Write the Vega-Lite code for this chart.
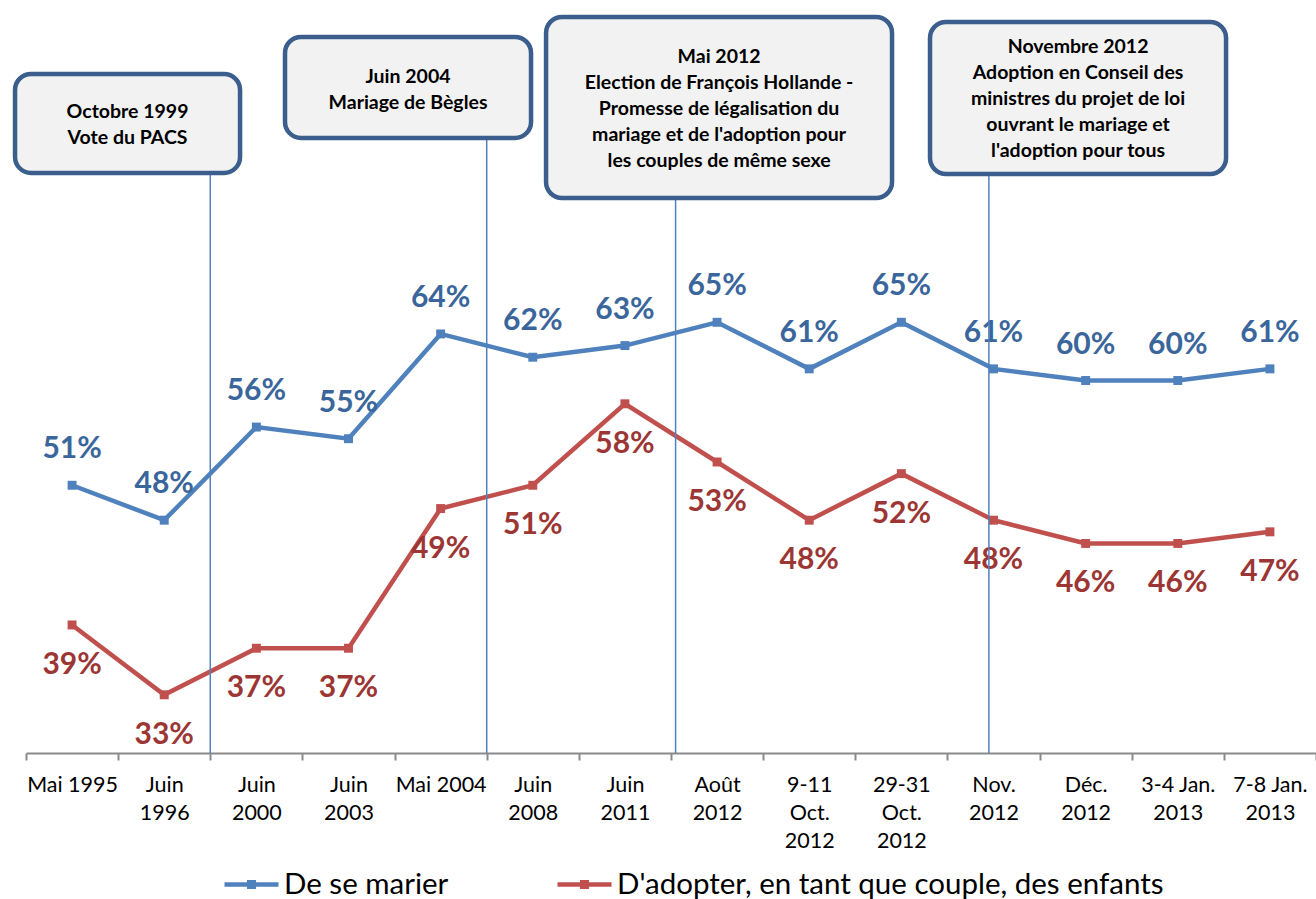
{
  "$schema": "https://vega.github.io/schema/vega-lite/v6.json",
  "autosize": "none",
  "padding": {"left": 26, "top": 8, "right": 0, "bottom": 146},
  "width": 1290,
  "height": 745,
  "background": "white",
  "config": {"view": {"stroke": null}, "font": "Lato"},
  "layer": [
    {
      "data": {"values": [
        {"date": "Mai 1995", "serie": "De se marier", "value": 0.51},
        {"date": "Juin\n1996", "serie": "De se marier", "value": 0.48},
        {"date": "Juin\n2000", "serie": "De se marier", "value": 0.56},
        {"date": "Juin\n2003", "serie": "De se marier", "value": 0.55},
        {"date": "Mai 2004", "serie": "De se marier", "value": 0.64},
        {"date": "Juin\n2008", "serie": "De se marier", "value": 0.62},
        {"date": "Juin\n2011", "serie": "De se marier", "value": 0.63},
        {"date": "Août\n2012", "serie": "De se marier", "value": 0.65},
        {"date": "9-11\nOct.\n2012", "serie": "De se marier", "value": 0.61},
        {"date": "29-31\nOct.\n2012", "serie": "De se marier", "value": 0.65},
        {"date": "Nov.\n2012", "serie": "De se marier", "value": 0.61},
        {"date": "Déc.\n2012", "serie": "De se marier", "value": 0.60},
        {"date": "3-4 Jan.\n2013", "serie": "De se marier", "value": 0.60},
        {"date": "7-8 Jan.\n2013", "serie": "De se marier", "value": 0.61},
        {"date": "Mai 1995", "serie": "D'adopter, en tant que couple, des enfants", "value": 0.39},
        {"date": "Juin\n1996", "serie": "D'adopter, en tant que couple, des enfants", "value": 0.33},
        {"date": "Juin\n2000", "serie": "D'adopter, en tant que couple, des enfants", "value": 0.37},
        {"date": "Juin\n2003", "serie": "D'adopter, en tant que couple, des enfants", "value": 0.37},
        {"date": "Mai 2004", "serie": "D'adopter, en tant que couple, des enfants", "value": 0.49},
        {"date": "Juin\n2008", "serie": "D'adopter, en tant que couple, des enfants", "value": 0.51},
        {"date": "Juin\n2011", "serie": "D'adopter, en tant que couple, des enfants", "value": 0.58},
        {"date": "Août\n2012", "serie": "D'adopter, en tant que couple, des enfants", "value": 0.53},
        {"date": "9-11\nOct.\n2012", "serie": "D'adopter, en tant que couple, des enfants", "value": 0.48},
        {"date": "29-31\nOct.\n2012", "serie": "D'adopter, en tant que couple, des enfants", "value": 0.52},
        {"date": "Nov.\n2012", "serie": "D'adopter, en tant que couple, des enfants", "value": 0.48},
        {"date": "Déc.\n2012", "serie": "D'adopter, en tant que couple, des enfants", "value": 0.46},
        {"date": "3-4 Jan.\n2013", "serie": "D'adopter, en tant que couple, des enfants", "value": 0.46},
        {"date": "7-8 Jan.\n2013", "serie": "D'adopter, en tant que couple, des enfants", "value": 0.47}
      ]},
      "encoding": {
        "x": {
          "field": "date", "type": "ordinal", "sort": null,
          "scale": {"type": "band", "paddingInner": 0, "paddingOuter": 0},
          "axis": {
            "title": null, "labelExpr": "split(datum.label, '\\n')", "labelAngle": 0,
            "labelFont": "Lato", "labelFontSize": 21.5, "labelLineHeight": 28, "labelColor": "#000000",
            "labelPadding": 14, "labelOverlap": false, "labelBound": false, "labelLimit": 0,
            "labelBaseline": "top",
            "tickBand": "extent", "tickSize": 7, "tickWidth": 2, "tickColor": "#8A8A8A",
            "domainColor": "#8A8A8A", "domainWidth": 2, "grid": false
          }
        },
        "y": {
          "field": "value", "type": "quantitative",
          "scale": {"domain": [0.28, 0.92], "nice": false, "zero": false},
          "axis": null
        }
      },
      "layer": [
        {
          "mark": {"type": "line", "strokeWidth": 4.5},
          "encoding": {
            "color": {
              "field": "serie", "type": "nominal",
              "scale": {"domain": ["De se marier", "D'adopter, en tant que couple, des enfants"], "range": ["#4F81BD", "#C0504D"]},
              "legend": {
                "orient": "none", "legendX": 196, "legendY": 847, "direction": "horizontal", "title": null,
                "symbolType": "M-1,0H1M-0.085,-0.085H0.085V0.085H-0.085Z", "symbolSize": 2916,
                "symbolStrokeWidth": 4.5,
                "labelFontSize": 29.5, "labelFont": "Lato", "labelColor": "#000000", "labelOffset": 3,
                "columnPadding": 99, "labelLimit": 0,
                "encode": {"symbols": {"update": {
                  "stroke": {"scale": "color", "field": "value"},
                  "fill": {"value": "transparent"},
                  "strokeWidth": {"value": 4.5}
                }}}
              }
            }
          }
        },
        {
          "mark": {"type": "point", "shape": "square", "filled": true, "size": 80, "opacity": 1},
          "encoding": {"color": {"field": "serie", "type": "nominal", "legend": null}}
        },
        {
          "transform": [{"filter": "datum.serie === 'De se marier'"}],
          "mark": {"type": "text", "fontSize": 30, "fontWeight": "bold", "font": "Lato", "dy": -36, "align": "center", "baseline": "middle", "color": "#3A669C"},
          "encoding": {"text": {"field": "value", "type": "quantitative", "format": ".0%"}}
        },
        {
          "transform": [{"filter": "datum.serie !== 'De se marier'"}],
          "mark": {"type": "text", "fontSize": 30, "fontWeight": "bold", "font": "Lato", "dy": 40, "align": "center", "baseline": "middle", "color": "#9C3634"},
          "encoding": {"text": {"field": "value", "type": "quantitative", "format": ".0%"}}
        }
      ]
    },
    {
      "layer": [
        {
          "data": {"values": [
            {"pos": 1.5, "top": 0.7783},
            {"pos": 4.5, "top": 0.8084},
            {"pos": 6.55, "top": 0.7568},
            {"pos": 9.95, "top": 0.7774}
          ]},
          "mark": {"type": "rule", "color": "#4F81BD", "strokeWidth": 1.5},
          "encoding": {
            "x": {"field": "pos", "type": "quantitative", "scale": {"domain": [-0.5, 13.5], "nice": false, "zero": false}, "axis": null},
            "y": {"field": "top", "type": "quantitative"},
            "y2": {"datum": 0.28}
          }
        },
        {
          "data": {"values": [
            {"event": ["Octobre 1999", "Vote du PACS"], "start": -0.619, "end": 1.823, "mid": 0.602, "top": 0.8633, "bottom": 0.7783, "firstline": 0.8309},
            {"event": ["Juin 2004", "Mariage de Bègles"], "start": 2.311, "end": 4.981, "mid": 3.646, "top": 0.8951, "bottom": 0.8084, "firstline": 0.861},
            {"event": ["Mai 2012", "Election de François Hollande -", "Promesse de légalisation du", "mariage et de l'adoption pour", "les couples de même sexe"], "start": 5.144, "end": 8.899, "mid": 7.022, "top": 0.9123, "bottom": 0.7568, "firstline": 0.8782},
            {"event": ["Novembre 2012", "Adoption en Conseil des", "ministres du projet de loi", "ouvrant le mariage et", "l'adoption pour tous"], "start": 9.311, "end": 12.524, "mid": 10.918, "top": 0.908, "bottom": 0.7774, "firstline": 0.8862}
          ]},
          "layer": [
            {
              "mark": {"type": "rect", "fill": "#F2F2F2", "stroke": "#3B5E8C", "strokeWidth": 4.5, "cornerRadius": 16},
              "encoding": {
                "x": {"field": "start", "type": "quantitative", "scale": {"domain": [-0.5, 13.5], "nice": false, "zero": false}, "axis": null},
                "x2": {"field": "end"},
                "y": {"field": "top", "type": "quantitative"},
                "y2": {"field": "bottom"}
              }
            },
            {
              "mark": {"type": "text", "font": "Lato", "fontSize": 19.5, "fontWeight": "bold", "color": "#000000", "align": "center", "baseline": "middle", "lineHeight": 26},
              "encoding": {
                "x": {"field": "mid", "type": "quantitative", "scale": {"domain": [-0.5, 13.5], "nice": false, "zero": false}, "axis": null},
                "y": {"field": "firstline", "type": "quantitative"},
                "text": {"field": "event"}
              }
            }
          ]
        }
      ]
    }
  ],
  "resolve": {"scale": {"x": "independent"}, "axis": {"x": "independent"}}
}
